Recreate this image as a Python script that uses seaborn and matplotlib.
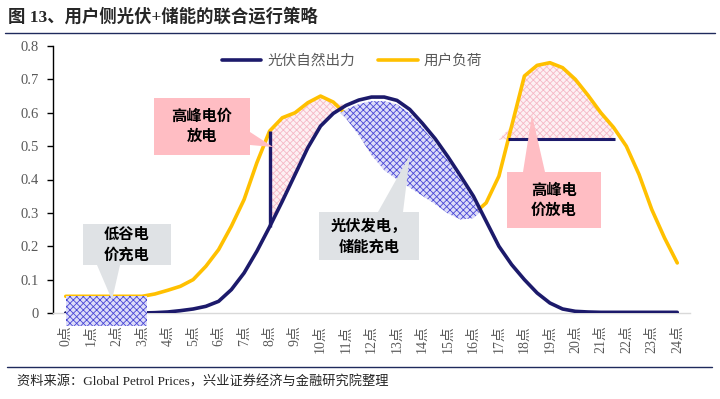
import numpy as np
import pandas as pd
import seaborn as sns
import matplotlib.pyplot as plt
from matplotlib.patches import Polygon, Rectangle
from matplotlib.lines import Line2D

# hourly readings (every half hour) off the reference chart
hours = np.arange(0, 24.5, 0.5)
tick_labels = [f'{h}点' for h in range(25)]

solar = [0, 0, 0, 0, 0, 0, 0, 0.001, 0.003, 0.007,          # 0 - 4.5
         0.012, 0.02, 0.035, 0.07, 0.12, 0.185, 0.258, 0.335,  # 5 - 8.5
         0.415, 0.495, 0.56, 0.598, 0.622, 0.638, 0.647, 0.647,  # 9 - 12.5
         0.637, 0.61, 0.568, 0.522, 0.468, 0.41, 0.35, 0.275,  # 13 - 16.5
         0.2, 0.145, 0.1, 0.06, 0.03, 0.012, 0.005, 0.003,     # 17 - 20.5
         0.002, 0.002, 0.002, 0.002, 0.002, 0.002, 0.002]      # 21 - 24

load = [0.05, 0.05, 0.05, 0.05, 0.05, 0.05, 0.05, 0.057, 0.068, 0.08,  # 0 - 4.5
        0.10, 0.14, 0.19, 0.26, 0.34, 0.45, 0.545, 0.585,             # 5 - 8.5
        0.60, 0.63, 0.65, 0.632, 0.595, 0.545, 0.485, 0.44,           # 9 - 12.5
        0.412, 0.388, 0.363, 0.338, 0.31, 0.292, 0.296, 0.33,         # 13 - 16.5
        0.41, 0.56, 0.71, 0.742, 0.75, 0.735, 0.70, 0.652,            # 17 - 20.5
        0.60, 0.556, 0.50, 0.415, 0.31, 0.225, 0.15]                  # 21 - 24

series_names = ['光伏自然出力', '用户负荷']

# storage strategy markers
valley_end = 3.2        # low-price charging window 0点 - 3点
valley_level = 0.05
morning_window = (8, 11)   # morning peak discharge
charge_window = (10.5, 16)
evening_window = (17.35, 21.55)
evening_level = 0.52

navy = '#1c1a6b'
gold = '#ffc000'
grey_txt = '#595959'

sns.set_theme(style='white')
plt.rcParams['font.family'] = ['Liberation Serif', 'Noto Sans CJK SC']
plt.rcParams['hatch.linewidth'] = 0.6
plt.rcParams['axes.unicode_minus'] = False

W, H = 720, 399
fig = plt.figure(figsize=(7.2, 3.99), dpi=100)
ax = fig.add_axes([53 / W, 1 - 313 / H, 637 / W, 267 / H])

df = pd.DataFrame({'hour': hours, series_names[0]: solar, series_names[1]: load})
x = df['hour'].values
s = df[series_names[0]].values
l = df[series_names[1]].values

sns.lineplot(data=df, x='hour', y=series_names[1], color=gold, lw=2.6, ax=ax,
             label=series_names[1], zorder=2)
sns.lineplot(data=df, x='hour', y=series_names[0], color=navy, lw=2.6, ax=ax,
             label=series_names[0], zorder=3)

pink_fill = dict(facecolor='#fdf0f3', edgecolor='#f6b8c6', hatch='xxxxx', lw=0, zorder=1)
blue_fill = dict(facecolor='#dcdcf8', edgecolor='#4a48d6', hatch='xxxxx', lw=0)

# morning peak discharge (pink)
ax.fill_between(x, s, np.maximum(l, s),
                where=(x >= morning_window[0]) & (x <= morning_window[1]), **pink_fill)
i8 = int(np.where(x == morning_window[0])[0][0])
ax.vlines(morning_window[0], s[i8], l[i8], color=navy, lw=2.4, zorder=3)

# midday solar charging (blue)
ax.fill_between(x, l - 0.012, s - 0.012,
                where=(x >= charge_window[0]) & (x <= charge_window[1]) & (s >= l),
                interpolate=True, zorder=2.5, **blue_fill)

# evening peak discharge (pink)
ax.fill_between(x, evening_level, np.maximum(l, evening_level),
                where=(x >= 17) & (x <= 21.5), **pink_fill)
ax.hlines(evening_level, evening_window[0], evening_window[1], color=navy, lw=2.2, zorder=3)

# low valley charging block
ax.add_patch(Rectangle((hours[0], -0.04), valley_end, valley_level + 0.04,
                       zorder=4, clip_on=False, **blue_fill))

ax.set_xlim(-0.5, 24.5)
ax.set_ylim(0, 0.8)
ax.set_xticks(range(25))
ax.set_xticklabels(tick_labels, rotation=90, fontsize=10, color=grey_txt)
ax.set_yticks(np.arange(0, 0.81, 0.1))
ax.set_yticklabels(['0'] + [f'{v:.1f}' for v in np.arange(0.1, 0.81, 0.1)],
                   fontsize=10.5, color=grey_txt)
ax.tick_params(axis='x', length=0, pad=9)
ax.tick_params(axis='y', length=4, width=1, color='black', direction='out', left=True, pad=6)
ax.set_xlabel('')
ax.set_ylabel('')
for side in ['top', 'right']:
    ax.spines[side].set_visible(False)
ax.spines['left'].set_color('black')
ax.spines['left'].set_linewidth(1)
ax.spines['bottom'].set_color('#d9d9d9')
ax.spines['bottom'].set_linewidth(1)

handles, labels = ax.get_legend_handles_labels()
order = [labels.index(n) for n in series_names]
ax.legend([handles[i] for i in order], [labels[i] for i in order], ncol=2,
          loc='center', bbox_to_anchor=(352 / W, 1 - 61 / H), bbox_transform=fig.transFigure,
          frameon=False, fontsize=10.5, labelcolor=grey_txt, handlelength=2.7,
          handletextpad=0.4, columnspacing=1.6)


def px(pts):
    return [(a / W, 1 - b / H) for a, b in pts]


def callout(pts, color, text, tx, ty):
    fig.add_artist(Polygon(px(pts), closed=True, transform=fig.transFigure,
                           facecolor=color, edgecolor='none', zorder=5))
    fig.text(tx / W, 1 - ty / H, text, ha='center', va='center', fontsize=11,
             fontweight='bold', color='black', linespacing=1.5, zorder=6)


pink_box = '#ffbdc3'
grey_box = '#dfe2e5'
callout([(154, 98), (250, 98), (250, 132), (273, 147), (250, 145), (250, 155), (154, 155)],
        pink_box, '高峰电价\n放电', 202, 127)
callout([(83, 224), (171, 224), (171, 265), (120, 265), (112, 300), (97, 265), (83, 265)],
        grey_box, '低谷电\n价充电', 127, 245)
callout([(319, 212), (378, 212), (410, 155), (403, 212), (419, 212), (419, 260), (319, 260)],
        grey_box, '光伏发电，\n储能充电', 369, 237)
callout([(507, 172), (523, 172), (532, 115), (545, 172), (601, 172), (601, 228), (507, 228)],
        pink_box, '高峰电\n价放电', 554, 201)

# header / footer
fig.text(8 / W, 1 - 17 / H, '图 13、用户侧光伏+储能的联合运行策略', fontsize=12.5,
         fontweight='bold', va='center', ha='left')
fig.add_artist(Line2D([5 / W, 715 / W], [1 - 33 / H] * 2, color='#1f2a5c', lw=1))
fig.add_artist(Line2D([7 / W, 712 / W], [1 - 367 / H] * 2, color='#1f2a5c', lw=1))
fig.text(17 / W, 1 - 382 / H, '资料来源：Global Petrol Prices，兴业证券经济与金融研究院整理',
         fontsize=9.5, va='center', ha='left')

fig.savefig('out.png', dpi=100)
